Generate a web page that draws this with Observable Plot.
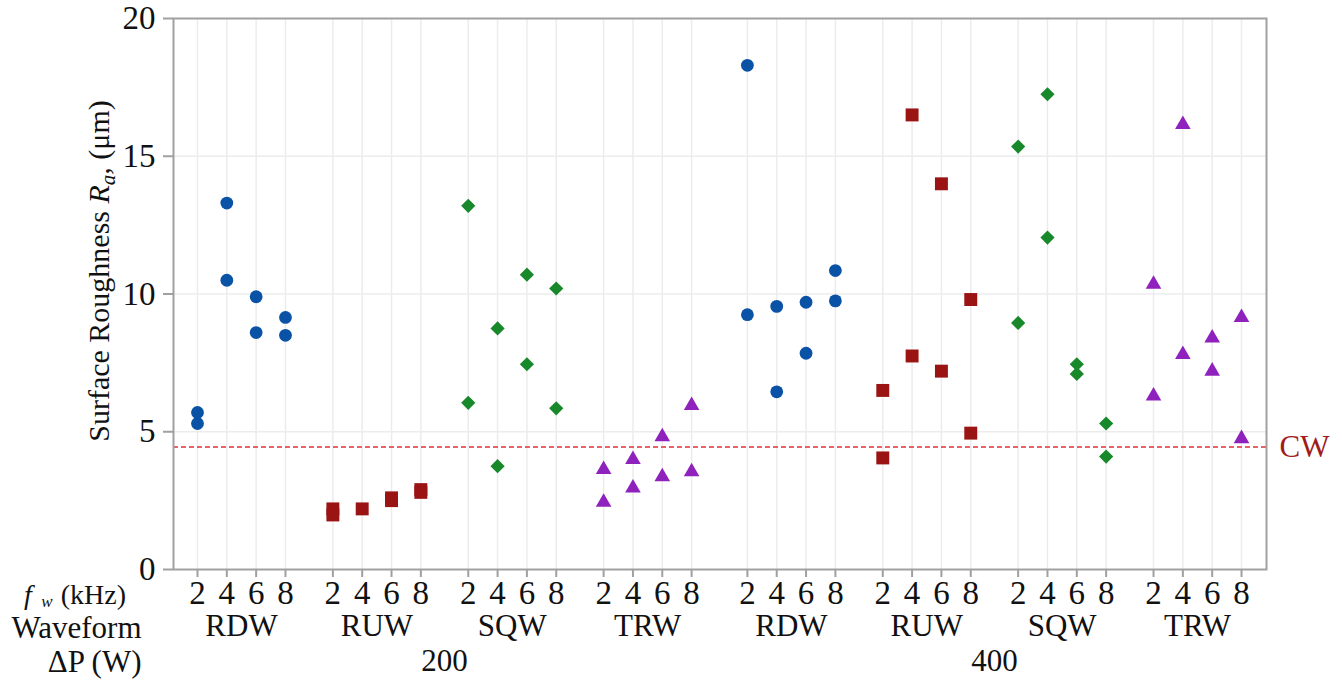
<!DOCTYPE html>
<html>
<head>
<meta charset="utf-8">
<script src="https://cdn.jsdelivr.net/npm/d3@7"></script>
<script src="https://cdn.jsdelivr.net/npm/@observablehq/plot@0.6"></script>
<style>
  body { margin: 0; background: #fff; }
  svg { font-family: "Liberation Serif", "Times New Roman", serif; }
</style>
</head>
<body>
<div id="chart"></div>
<script>
// ---- data ----
const powers = [200, 400];
const waveforms = ["RDW", "RUW", "SQW", "TRW"];
const freqs = [2, 4, 6, 8];
const yTicks = [0, 5, 10, 15, 20];
const cwLevel = 4.45;

// Ra values (µm) for fw = 2, 4, 6, 8 kHz (two specimens each)
const RDW_200 = [[5.7, 5.3], [13.3, 10.5], [9.9, 8.6], [9.15, 8.5]];
const RUW_200 = [[2.2, 1.98], [2.2], [2.6, 2.5], [2.9, 2.8]];
const SQW_200 = [[13.2, 6.05], [8.75, 3.75], [10.7, 7.45], [10.2, 5.85]];
const TRW_200 = [[3.63, 2.44], [3.99, 2.96], [4.82, 3.37], [5.95, 3.55]];
const RDW_400 = [[18.3, 9.25], [9.55, 6.45], [9.7, 7.85], [10.85, 9.75]];
const RUW_400 = [[6.5, 4.05], [16.5, 7.75], [14.0, 7.2], [9.8, 4.95]];
const SQW_400 = [[15.35, 8.95], [17.25, 12.05], [7.45, 7.1], [5.3, 4.1]];
const TRW_400 = [[10.35, 6.3], [16.15, 7.8], [8.4, 7.2], [9.15, 4.75]];

const seriesColors = ["#0a52a6", "#9a1414", "#17892b", "#8f22bd"];
const seriesSymbols = ["circle", "square", "diamond2", "triangle"];

// ---- layout of the categorical x (nested ΔP > waveform > fw) ----
const groupStep = 4.616;   // fw slots per waveform group incl. gap
const powerStep = 18.75;   // slots per ΔP block incl. gap
const slot = (pi, wi, ki) => pi * powerStep + wi * groupStep + ki;

const table = { RDW: [RDW_200, RDW_400], RUW: [RUW_200, RUW_400], SQW: [SQW_200, SQW_400], TRW: [TRW_200, TRW_400] };

const rows = [];
const tickRows = [];
const groupRows = [];
const powerRows = [];
powers.forEach((p, pi) => {
  powerRows.push({ label: String(p), pos: (slot(pi, 0, 0) + slot(pi, 3, 3)) / 2 });
  waveforms.forEach((w, wi) => {
    groupRows.push({ label: w, pos: slot(pi, wi, 1.5) });
    freqs.forEach((f, ki) => {
      tickRows.push({ fw: f, pos: slot(pi, wi, ki) });
      table[w][pi][ki].forEach(v => rows.push({ power: p, waveform: w, fw: f, ra: v, pos: slot(pi, wi, ki) }));
    });
  });
});
const fwByPos = new Map(tickRows.map(d => [d.pos, String(d.fw)]));

const FT = 33;   // tick label size
const FL = 31;   // category label size
const plot = Plot.plot({
  width: 1342,
  height: 689,
  marginLeft: 173,
  marginRight: 76,
  marginTop: 18,
  marginBottom: 120,
  style: { fontFamily: "Liberation Serif, serif", fontSize: FL + "px", background: "#fff", color: "#111" },
  x: { type: "linear", domain: [-0.818, 36.45], axis: null },
  y: { domain: [0, 20], axis: null },
  color: { domain: waveforms, range: seriesColors },
  symbol: { domain: waveforms, range: seriesSymbols },
  marks: [
    Plot.gridX(tickRows.map(d => d.pos), { stroke: "#ececec", strokeOpacity: 1, strokeWidth: 1.5 }),
    Plot.gridY([5, 10, 15], { stroke: "#ececec", strokeOpacity: 1, strokeWidth: 1.5 }),
    Plot.ruleY([cwLevel], { stroke: "#e0303a", strokeDasharray: "5,3", strokeWidth: 1.5 }),
    Plot.frame({ stroke: "#a0a0a0", strokeWidth: 2 }),
    Plot.axisY({ ticks: yTicks, tickSize: 10, tickPadding: 8, stroke: "#a0a0a0", strokeWidth: 2, label: null, fontSize: FT, fill: "#111" }),
    Plot.axisX({ ticks: tickRows.map(d => d.pos), tickSize: 8, tickPadding: 3, stroke: "#a0a0a0", strokeWidth: 2, label: null, tickFormat: d => fwByPos.get(d), fontSize: FT, fill: "#111" }),
    Plot.text(groupRows, { x: "pos", text: "label", frameAnchor: "bottom", dy: 66, fontSize: FL, fill: "#111" }),
    Plot.text(powerRows, { x: "pos", text: "label", frameAnchor: "bottom", dy: 101, fontSize: FL, fill: "#111" }),
    Plot.text(["Waveform"], { text: d => d, frameAnchor: "bottom-left", dx: -32, dy: 68, textAnchor: "end", fontSize: FL, fill: "#111" }),
    Plot.text(["ΔP (W)"], { text: d => d, frameAnchor: "bottom-left", dx: -32, dy: 102, textAnchor: "end", fontSize: FL, fill: "#111" }),
    Plot.text(["CW"], { text: d => d, y: cwLevel, frameAnchor: "right", dx: 13, textAnchor: "start", fontSize: FL, fill: "#a01c1c" }),
    Plot.dot(rows.filter(d => d.waveform === "RDW"), { x: "pos", y: "ra", symbol: "waveform", fill: "waveform", r: 6.4 }),
    Plot.dot(rows.filter(d => d.waveform === "RUW"), { x: "pos", y: "ra", symbol: "waveform", fill: "waveform", r: 7.3 }),
    Plot.dot(rows.filter(d => d.waveform === "SQW"), { x: "pos", y: "ra", symbol: "waveform", fill: "waveform", r: 6.4 }),
    Plot.dot(rows.filter(d => d.waveform === "TRW"), { x: "pos", y: "ra", symbol: "waveform", fill: "waveform", r: 5.8 })
  ]
});

document.getElementById("chart").appendChild(plot);
const svg = d3.select(plot);

// y-axis title with italic R and subscript a
const yl = svg.append("text")
  .attr("transform", "translate(109,271) rotate(-90)")
  .attr("text-anchor", "middle")
  .attr("font-size", 30)
  .attr("fill", "#111");
yl.append("tspan").text("Surface Roughness ");
yl.append("tspan").attr("font-style", "italic").text("R");
yl.append("tspan").attr("font-style", "italic").attr("font-size", 21).attr("dy", 6).text("a");
yl.append("tspan").attr("font-style", "italic").attr("dy", -6).text(",");
yl.append("tspan").text(" (μm)");

// f_w (kHz) row label, built from adjacent pieces
const baseY = 604;
let right = 126;
const kHz = svg.append("text").attr("x", right).attr("y", baseY).attr("text-anchor", "end")
  .attr("font-size", 28).attr("fill", "#111").text("(kHz)");
right -= kHz.node().getBBox().width + 8;
const sub = svg.append("text").attr("x", right).attr("y", baseY + 3).attr("text-anchor", "end")
  .attr("font-size", 17).attr("font-style", "italic").attr("fill", "#111").text("w");
right -= sub.node().getBBox().width + 9;
svg.append("text").attr("x", right).attr("y", baseY).attr("text-anchor", "end")
  .attr("font-size", 28).attr("font-style", "italic").attr("fill", "#111").text("f");
</script>
</body>
</html>
